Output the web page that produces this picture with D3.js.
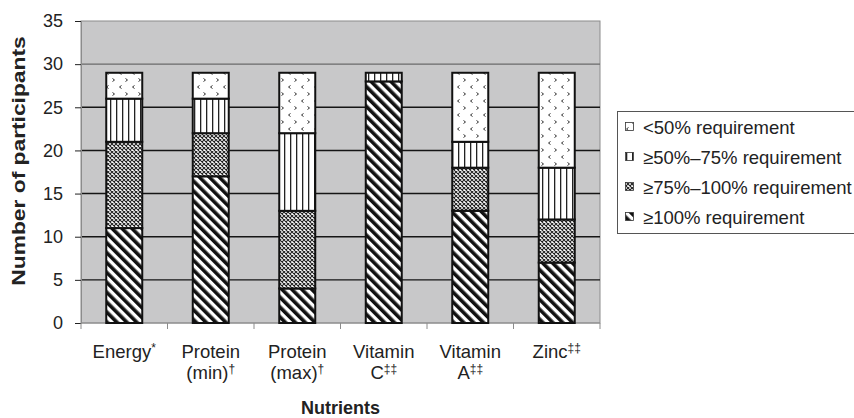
<!DOCTYPE html>
<html>
<head>
<meta charset="utf-8">
<script src="https://cdn.jsdelivr.net/npm/d3@7"></script>
<style>
  html, body { margin: 0; padding: 0; background: #fff; }
  svg { display: block; font-family: "Liberation Sans", Arial, sans-serif; }
</style>
</head>
<body>
<svg id="chart" width="854" height="418"></svg>
<script>
// ---- data ----
const categories = ["Energy*", "Protein (min)†", "Protein (max)†", "Vitamin C‡‡", "Vitamin A‡‡", "Zinc‡‡"];
const ge100  = [11, 17, 4, 28, 13, 7];   // ≥100% requirement
const p75to100 = [10, 5, 9, 0, 5, 5];    // ≥75%–100% requirement
const p50to75  = [5, 4, 9, 1, 3, 6];     // ≥50%–75% requirement
const lt50   = [3, 3, 7, 0, 8, 11];      // <50% requirement
const seriesKeys = ["ge100", "p75", "p50", "lt50"];
const seriesLabels = ["≥100% requirement", "≥75%–100% requirement", "≥50%–75% requirement", "<50% requirement"];
const yTicks = [0, 5, 10, 15, 20, 25, 30, 35];
const yTitle = "Number of participants";
const xTitle = "Nutrients";

const table = categories.map((c, i) => ({ cat: c, ge100: ge100[i], p75: p75to100[i], p50: p50to75[i], lt50: lt50[i] }));

// ---- layout ----
const svg = d3.select("#chart");
const plot = { left: 81, right: 600, top: 21, bottom: 323 };

const x = d3.scaleBand().domain(categories).range([plot.left, plot.right]);
const y = d3.scaleLinear().domain([0, 35]).range([plot.bottom, plot.top]);
const barW = 36;

// ---- patterns ----
const defs = svg.append("defs");
const patIds = { ge100: "pGe100", p75: "pP75", p50: "pP50", lt50: "pLt50" };

let p = defs.append("pattern").attr("id", "pGe100").attr("patternUnits", "userSpaceOnUse")
  .attr("width", 7).attr("height", 7).attr("patternTransform", "rotate(-45)");
p.append("rect").attr("width", 7).attr("height", 7).attr("fill", "#fff");
p.append("rect").attr("width", 3.6).attr("height", 7).attr("fill", "#111");

p = defs.append("pattern").attr("id", "pP75").attr("patternUnits", "userSpaceOnUse")
  .attr("width", 4).attr("height", 4);
p.append("rect").attr("width", 4).attr("height", 4).attr("fill", "#fff");
p.append("path").attr("d", "M0,0 L4,4 M4,0 L0,4").attr("stroke", "#222").attr("stroke-width", 1.1);

p = defs.append("pattern").attr("id", "pP50").attr("patternUnits", "userSpaceOnUse")
  .attr("width", 6).attr("height", 10);
p.append("rect").attr("width", 6).attr("height", 10).attr("fill", "#fff");
p.append("rect").attr("x", 2).attr("width", 1.3).attr("height", 10).attr("fill", "#222");

p = defs.append("pattern").attr("id", "pLt50").attr("patternUnits", "userSpaceOnUse")
  .attr("width", 13).attr("height", 14);
p.append("rect").attr("width", 13).attr("height", 14).attr("fill", "#fff");
p.append("path").attr("d", "M4.5,1.5 L2.5,3 L4.5,4.5 M8.5,8.5 L10.5,10 L8.5,11.5")
  .attr("fill", "none").attr("stroke", "#333").attr("stroke-width", 1);

// ---- plot area ----
svg.append("rect").attr("x", plot.left).attr("y", plot.top)
  .attr("width", plot.right - plot.left).attr("height", plot.bottom - plot.top)
  .attr("fill", "#c8c8c9").attr("stroke", "#8c8c8c").attr("stroke-width", 1);

// gridlines
svg.append("g").selectAll("line").data(yTicks.filter(d => d > 0 && d < 35)).join("line")
  .attr("x1", plot.left).attr("x2", plot.right)
  .attr("y1", d => y(d)).attr("y2", d => y(d))
  .attr("stroke", d => d === 30 ? "#6a6a6a" : "#151515").attr("stroke-width", 1.4);

// y axis
const yAxis = d3.axisLeft(y).tickValues(yTicks).tickSize(6).tickPadding(12);
const gy = svg.append("g").attr("transform", `translate(${plot.left},0)`).call(yAxis);
gy.select(".domain").attr("stroke", "#8c8c8c");
gy.selectAll(".tick line").attr("stroke", "#222");
gy.selectAll(".tick text").attr("font-size", 18).attr("fill", "#222")
  .attr("font-family", "'Liberation Sans', Arial, sans-serif");

// x axis
const gx = svg.append("g").attr("transform", `translate(0,${plot.bottom})`);
gx.append("line").attr("x1", plot.left).attr("x2", plot.right).attr("stroke", "#8c8c8c");
const bounds = d3.range(categories.length + 1).map(i => plot.left + i * x.step());
gx.selectAll("line.t").data(bounds).join("line").attr("class", "t")
  .attr("x1", d => d).attr("x2", d => d).attr("y1", 0).attr("y2", 6).attr("stroke", "#8c8c8c");

// category labels
const supChars = /[*†‡]/;
categories.forEach(c => {
  const sp = c.indexOf(" ");
  const lines = sp > 0 ? [c.slice(0, sp), c.slice(sp + 1)] : [c];
  const t = svg.append("text").attr("text-anchor", "middle").attr("font-size", 18.5).attr("fill", "#222")
    .attr("transform", `translate(${x(c) + x.bandwidth() / 2},0)`);
  lines.forEach((ln, li) => {
    const m = ln.search(supChars);
    const main = m >= 0 ? ln.slice(0, m) : ln;
    const sup = m >= 0 ? ln.slice(m) : "";
    t.append("tspan").attr("x", 0).attr("y", 358 + li * 21).text(main);
    if (sup) {
      t.append("tspan").attr("font-size", 12).attr("dy", -6).text(sup);
    }
  });
});

// axis titles
svg.append("text").attr("x", (plot.left + plot.right) / 2).attr("y", 414)
  .attr("text-anchor", "middle").attr("font-size", 18).attr("font-weight", "bold").attr("fill", "#222")
  .text(xTitle);
svg.append("text").attr("transform", `translate(25,${(plot.top + plot.bottom) / 2 - 11}) rotate(-90) scale(1.2,1)`)
  .attr("text-anchor", "middle").attr("font-size", 19).attr("font-weight", "bold").attr("fill", "#222")
  .text(yTitle);

// ---- bars ----
const stack = d3.stack().keys(seriesKeys)(table);
const gb = svg.append("g");
stack.forEach(layer => {
  gb.append("g").selectAll("rect").data(layer.filter(d => d[1] > d[0])).join("rect")
    .attr("x", d => x(d.data.cat) + x.bandwidth() / 2 - barW / 2)
    .attr("width", barW)
    .attr("y", d => y(d[1]))
    .attr("height", d => y(d[0]) - y(d[1]))
    .attr("fill", `url(#${patIds[layer.key]})`)
    .attr("stroke", "#111").attr("stroke-width", 2);
});

// ---- legend ----
const lg = svg.append("g");
lg.append("rect").attr("x", 617.5).attr("y", 111.5).attr("width", 240).attr("height", 122)
  .attr("fill", "#fff").attr("stroke", "#555").attr("stroke-width", 1);
const legendOrder = ["lt50", "p50", "p75", "ge100"];
legendOrder.forEach((k, i) => {
  const cy = 127 + i * 30;
  lg.append("rect").attr("x", 625.5).attr("y", cy - 4.5).attr("width", 8).attr("height", 8)
    .attr("fill", `url(#${patIds[k]})`).attr("stroke", "#333").attr("stroke-width", 0.8);
  lg.append("text").attr("x", 643).attr("y", cy + 6.5).attr("font-size", 18.5).attr("fill", "#222")
    .text(seriesLabels[seriesKeys.indexOf(k)]);
});
</script>
</body>
</html>
